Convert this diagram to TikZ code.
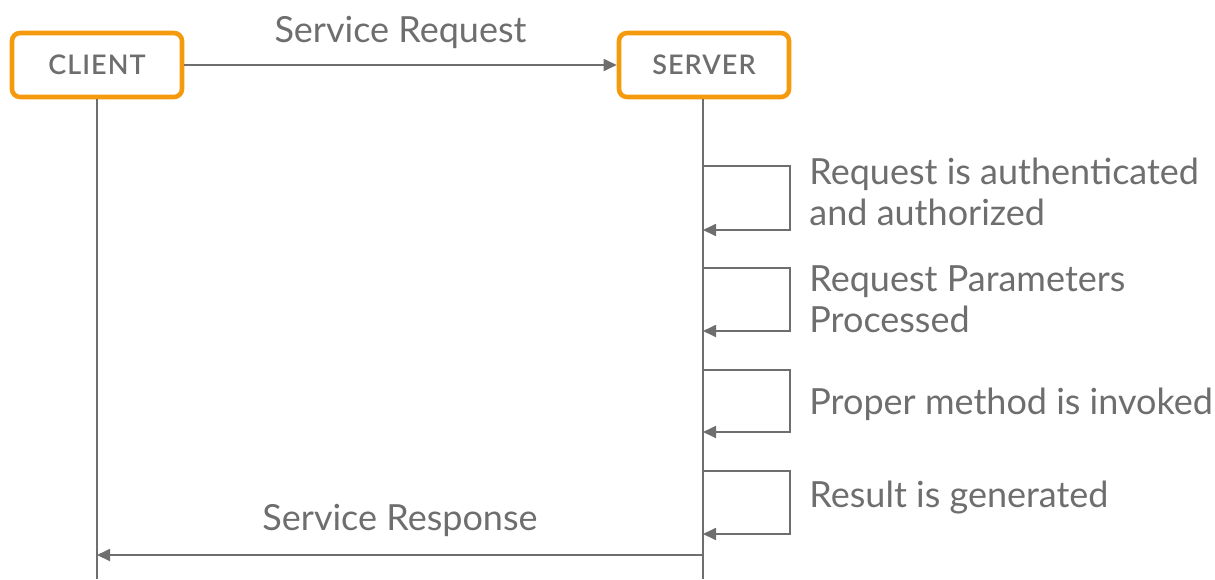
\documentclass[tikz,border=0pt]{standalone}
\usepackage{fontspec}
\setmainfont{Lato}
\newfontfamily\actorfont[LetterSpace=4]{Lato Semibold}
\usepackage{tikz}
\usetikzlibrary{arrows.meta}

\definecolor{boxorange}{HTML}{F59A0C}
\definecolor{linegray}{HTML}{6E6E6E}

\tikzset{
  actor/.style={draw=boxorange, line width=2.3pt, rounded corners=4pt, fill=white,
    minimum width=85pt, minimum height=32pt, text=linegray, font=\actorfont\fontsize{13.5}{16}\selectfont},
  lifeline/.style={draw=linegray, line width=0.9pt},
  msg/.style={draw=linegray, line width=0.9pt, -{Triangle[length=6.5pt,width=6pt]}},
  lbl/.style={text=linegray, font=\fontsize{18}{20.5}\selectfont, inner sep=0pt},
}

\begin{document}
\begin{tikzpicture}[x=0.5pt,y=-0.5pt]
  \useasboundingbox (0,0) rectangle (1215,579);

   \draw (97,65) node[actor] (client) {CLIENT};
   \draw (704,65) node[actor] (server) {SERVER};

   % lifelines
   \coordinate (clientend) at (97,579);
   \coordinate (serverend) at (703,579);
   \path (client.south) edge[lifeline] (clientend);
   \path ([xshift=-0.5pt]server.south) edge[lifeline] (serverend);

   % request
   \path (client) edge[msg] node[lbl, above=7.5pt] (req) {Service Request} (server);

   % server side steps
   \coordinate (a1) at (703,166); \coordinate (b1) at (703,230);
   \coordinate (a2) at (703,268); \coordinate (b2) at (703,331);
   \coordinate (a3) at (703,370); \coordinate (b3) at (703,432);
   \coordinate (a4) at (703,471); \coordinate (b4) at (703,534);
   \foreach \i in {1,2,3,4}
     \draw[msg] (a\i) -- ++(87,0) |- (b\i);

   \draw (809,192) node[lbl, anchor=west, align=left] (auth) {Request is authenticated\\and authorized};
   \draw (809,299) node[lbl, anchor=west, align=left] (params) {Request Parameters\\Processed};
   \draw (809,404) node[lbl, anchor=west] (method) {Proper method is invoked};
   \draw (809,498) node[lbl, anchor=west] (result) {Result is generated};

   % response
   \coordinate (r1) at (703,555);
   \coordinate (r2) at (97,555);
   \path (r1) edge[msg] node[lbl, above=8.5pt] (resp) {Service Response} (r2);

\end{tikzpicture}
\end{document}
